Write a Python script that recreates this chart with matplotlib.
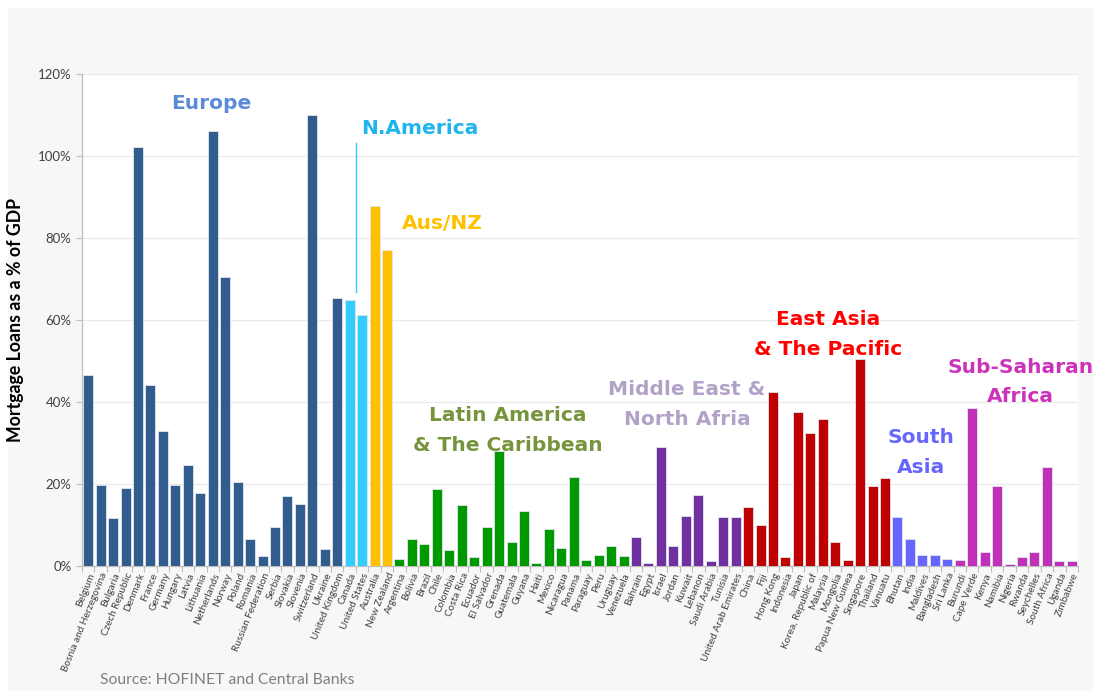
import matplotlib
matplotlib.use("Agg")
import matplotlib.pyplot as plt
import matplotlib.patches as mpatches
from matplotlib.ticker import FuncFormatter, MultipleLocator, FixedLocator
import numpy as np

# ---------------- data ----------------
europe = ["Belgium", "Bosnia and Herzegovina", "Bulgaria", "Czech Republic", "Denmark", "France",
          "Germany", "Hungary", "Latvia", "Lithuania", "Netherlands", "Norway", "Poland", "Romania",
          "Russian Federation", "Serbia", "Slovakia", "Slovenia", "Switzerland", "Ukraine", "United Kingdom"]
europe_vals = [46.5, 19.8, 11.8, 19.1, 102.3, 44.1, 32.9, 19.8, 24.7, 17.9, 106.2, 70.5, 20.6, 6.6,
               2.4, 9.6, 17.0, 15.2, 110.1, 4.1, 65.4]

n_america = ["Canada", "United States"]
n_america_vals = [64.9, 61.3]

aus_nz = ["Australia", "New Zealand"]
aus_nz_vals = [87.9, 77.1]

latam = ["Argentina", "Bolivia", "Brazil", "Chile", "Colombia", "Costa Rica", "Ecuador", "El Salvador",
         "Grenada", "Guatemala", "Guyana", "Haiti", "Mexico", "Nicaragua", "Panama", "Paraguay", "Peru",
         "Uruguay", "Venezuela"]
latam_vals = [1.6, 6.5, 5.3, 18.9, 3.8, 14.9, 2.2, 9.5, 28.1, 5.9, 13.4, 0.8, 9.1, 4.5, 21.8, 1.4, 2.8,
              4.9, 2.4]

mena = ["Bahrain", "Egypt", "Israel", "Jordan", "Kuwait", "Lebanon", "Saudi Arabia", "Tunisia",
        "United Arab Emirates"]
mena_vals = [7.1, 0.8, 29.0, 4.8, 12.1, 17.4, 1.3, 11.9, 11.9]

east_asia = ["China", "Fiji", "Hong Kong", "Indonesia", "Japan", "Korea, Republic of", "Malaysia",
             "Mongolia", "Papua New Guinea", "Singapore", "Thailand", "Vanuatu"]
east_asia_vals = [14.5, 10.1, 42.5, 2.3, 37.5, 32.5, 35.9, 5.9, 1.4, 50.6, 19.4, 21.5]

south_asia = ["Bhutan", "India", "Maldives", "Bangladesh", "Sri Lanka"]
south_asia_vals = [11.9, 6.5, 2.8, 2.8, 1.7]

ssa = ["Burundi", "Cape Verde", "Kenya", "Namibia", "Nigeria", "Rwanda", "Seychelles", "South Africa",
       "Uganda", "Zimbabwe"]
ssa_vals = [1.4, 38.5, 3.4, 19.5, 0.6, 2.2, 3.3, 24.1, 1.2, 1.2]

region_names = ["Europe", "N.America", "Aus/NZ", "Latin America\n& The Caribbean",
                "Middle East &\nNorth Afria", "East Asia\n& The Pacific", "South\nAsia",
                "Sub-Saharan\nAfrica"]
region_countries = [europe, n_america, aus_nz, latam, mena, east_asia, south_asia, ssa]
region_values = [europe_vals, n_america_vals, aus_nz_vals, latam_vals, mena_vals, east_asia_vals,
                 south_asia_vals, ssa_vals]
bar_colors = ["#335c8e", "#33ccff", "#ffc000", "#009900", "#7030a0", "#c00000", "#6666ff", "#c030b8"]
label_colors = ["#5b8ad6", "#20b4ee", "#ffc000", "#77933c", "#b3a2c7", "#ff0000", "#6666ff", "#cc33bb"]
# label anchor positions (data coords: bar index, percent)
label_pos = [(9.9, 112.8), (26.6, 106.7), (28.4, 83.5), (33.7, 33.0), (48.1, 39.3), (59.4, 56.4),
             (66.9, 27.6), (74.9, 44.9)]

# ---------------- figure ----------------
fig = plt.figure(figsize=(10.93, 6.91), dpi=100)
fig.patch.set_facecolor("white")
bg = mpatches.Rectangle((8 / 1093, 0), 1, 1 - 8 / 691, transform=fig.transFigure,
                        facecolor="#f7f7f7", edgecolor="none", zorder=-10)
fig.patches.append(bg)

ax = fig.add_axes([82 / 1093, 1 - 566 / 691, (1078 - 82) / 1093, (566 - 74) / 691])
ax.set_zorder(1)
ax.set_facecolor("white")

names, vals, cols = [], [], []
for countries, values, c in zip(region_countries, region_values, bar_colors):
    names += countries
    vals += values
    cols += [c] * len(countries)
x = np.arange(len(names))
ax.bar(x, vals, width=0.8, color=cols, edgecolor="#dfe6ee", linewidth=0.6, zorder=3)

ax.set_xlim(-0.5, len(names) - 0.5)
ax.set_ylim(0, 120)
ax.yaxis.set_major_locator(MultipleLocator(20))
ax.yaxis.set_major_formatter(FuncFormatter(lambda v, p: f"{int(v)}%"))
ax.grid(axis="y", color="#ebebeb", linewidth=0.9, zorder=0)

ax.set_xticks(x)
ax.set_xticklabels(names, rotation=68, ha="right", va="top", rotation_mode="anchor",
                   fontsize=7.2, family="Lato", color="#404040")
ax.tick_params(axis="x", length=0, pad=4)
ax.xaxis.set_minor_locator(FixedLocator(np.arange(-0.5, len(names), 1.0)))
ax.tick_params(axis="x", which="minor", length=4, color="#bfbfbf", width=0.8)
ax.tick_params(axis="y", length=4, color="#bfbfbf", width=0.8, labelsize=9.5, labelcolor="#404040")
for lab in ax.get_yticklabels():
    lab.set_family("Lato")

for s in ["top", "right"]:
    ax.spines[s].set_visible(False)
for s in ["left", "bottom"]:
    ax.spines[s].set_color("#bfbfbf")
    ax.spines[s].set_linewidth(0.9)

ax.set_ylabel("Mortgage Loans as a % of GDP", fontsize=12.8, fontweight="bold", family="Lato",
              color="black", labelpad=10)

for name, lc, (tx, ty) in zip(region_names, label_colors, label_pos):
    ax.text(tx, ty, name, color=lc, fontsize=14.5, fontweight="bold", ha="center", va="center",
            linespacing=1.72, family="DejaVu Sans", zorder=5)

# leader line for N.America label
ax.plot([21.5, 21.5], [66.9, 103.2], color="#33ccff", linewidth=1.0, zorder=4)

fig.text(100 / 1093, 1 - 680 / 691, "Source: HOFINET and Central Banks", fontsize=11.3,
         family="Lato", color="#7f7f7f", ha="left", va="center")

fig.savefig("out.png", dpi=100, facecolor=fig.get_facecolor())
